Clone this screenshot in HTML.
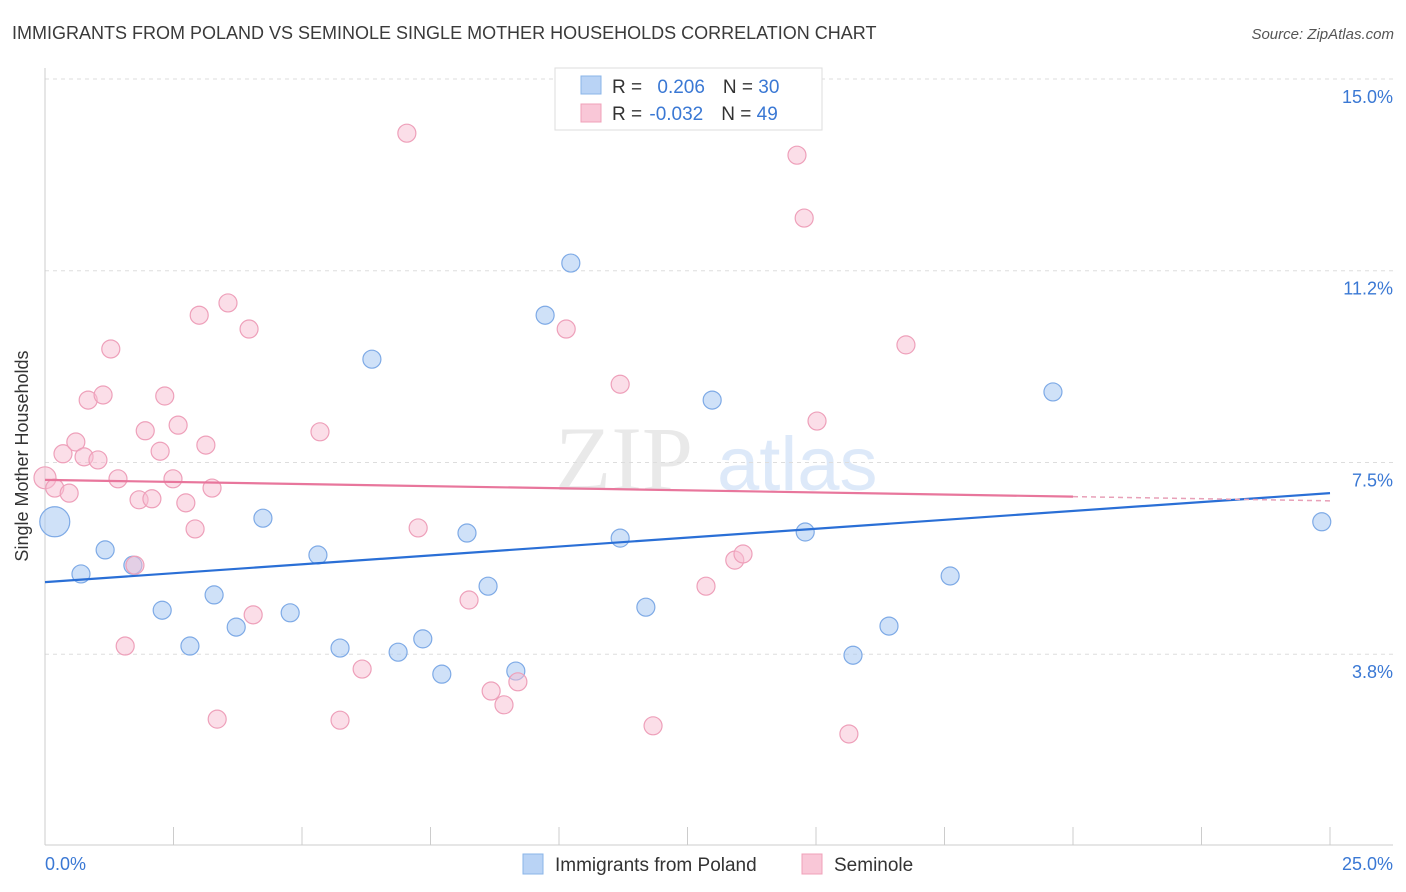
<!DOCTYPE html>
<html><head><meta charset="utf-8"><style>
body{margin:0;background:#fff;font-family:"Liberation Sans",sans-serif;}
svg{display:block}
</style></head><body>
<svg width="1406" height="892">
<text x="12" y="39" font-size="18" fill="#3a3a3a">IMMIGRANTS FROM POLAND VS SEMINOLE SINGLE MOTHER HOUSEHOLDS CORRELATION CHART</text>
<text x="1394" y="39" font-size="15" fill="#555" font-style="italic" text-anchor="end">Source: ZipAtlas.com</text>
<g opacity="0.18">
<text x="555" y="490" font-family="Liberation Serif,serif" font-size="92" fill="#888">ZIP</text>
<text x="717" y="490" font-size="76" fill="#4a8be0">atlas</text>
</g>
<g id="grid"></g>
<line x1="45" y1="68" x2="45" y2="845" stroke="#ccc"/>
<line x1="45" y1="845" x2="1393" y2="845" stroke="#ccc"/>
<g id="ticks"></g>
<g id="pts"></g>
<g id="lines"></g>
<text x="28" y="456" font-size="18" fill="#333" text-anchor="middle" transform="rotate(-90 28 456)">Single Mother Households</text>
<text x="45" y="870" font-size="18" fill="#3a78d4">0.0%</text>
<text x="1393" y="870" font-size="18" fill="#3a78d4" text-anchor="end">25.0%</text>
<g>
<rect x="555" y="68" width="267" height="62" fill="#fff" stroke="#ddd"/>
<rect x="581" y="76" width="20" height="18" fill="#b9d3f5" stroke="#8ab4e8"/>
<rect x="581" y="104" width="20" height="18" fill="#f9c7d7" stroke="#f0a0b8"/>
<text x="612" y="93" font-size="19" fill="#333">R = <tspan fill="#3a78d4" dx="10">0.206</tspan><tspan dx="18">N = </tspan><tspan fill="#3a78d4">30</tspan></text>
<text x="612" y="120" font-size="19" fill="#333">R = <tspan fill="#3a78d4" dx="2">-0.032</tspan><tspan dx="18">N = </tspan><tspan fill="#3a78d4">49</tspan></text>
</g>
<g>
<rect x="523" y="854" width="20" height="20" fill="#b9d3f5" stroke="#8ab4e8"/>
<text x="555" y="871" font-size="19" fill="#333">Immigrants from Poland</text>
<rect x="802" y="854" width="20" height="20" fill="#f9c7d7" stroke="#f0a0b8"/>
<text x="834" y="871" font-size="19" fill="#333">Seminole</text>
</g>
</svg>
<script>
const yTicks=[15.0,11.25,7.5,3.75];
const yTickLabels=["15.0%","11.2%","7.5%","3.8%"];
const xTicks=[0,2.5,5,7.5,10,12.5,15,17.5,20,22.5,25];
const polandX=[0.19,0.70,1.17,1.71,2.28,2.82,3.29,3.72,4.24,4.77,5.31,5.74,6.36,6.87,7.35,7.72,8.21,8.62,9.16,9.73,10.23,11.19,11.69,12.98,14.79,15.72,16.42,17.61,19.61,24.84];
const polandY=[6.34,5.32,5.79,5.49,4.61,3.91,4.91,4.28,6.41,4.56,5.69,3.87,9.52,3.79,4.05,3.36,6.12,5.08,3.42,10.38,11.40,6.02,4.67,8.72,6.14,3.73,4.30,5.28,8.88,6.34];
const polandR=[15,9,9,9,9,9,9,9,9,9,9,9,9,9,9,9,9,9,9,9,9,9,9,9,9,9,9,9,9,9];
const seminoleX=[0,0.19,0.47,0.35,0.60,0.76,1.03,0.84,1.13,1.28,1.42,1.56,1.83,1.95,2.08,2.24,2.33,2.49,2.59,2.74,2.92,3.00,3.13,3.25,3.35,3.56,3.97,4.05,5.35,5.74,6.17,7.04,7.26,8.25,8.68,8.93,9.20,10.14,11.19,11.83,12.86,13.42,13.58,14.63,14.77,15.02,15.64,16.75,1.75];
const seminoleY=[7.20,7.0,6.90,7.67,7.90,7.61,7.55,8.72,8.82,9.72,7.18,3.91,6.77,8.12,6.79,7.72,8.80,7.18,8.23,6.71,6.20,10.38,7.84,7.0,2.48,10.62,10.11,4.52,8.10,2.46,3.46,13.94,6.22,4.81,3.03,2.76,3.21,10.11,9.03,2.35,5.08,5.59,5.71,13.51,12.28,8.31,2.19,9.80,5.49];
const polandTrend=[5.16,6.90];
const seminoleTrend=[7.16,6.75];
const NS="http://www.w3.org/2000/svg";
const X=v=>45+v*51.4, Y=v=>79+(15-v)*51.13;
function mk(t,a,p){const e=document.createElementNS(NS,t);for(const k in a)e.setAttribute(k,a[k]);p.appendChild(e);return e;}
const grid=document.getElementById('grid'),ticks=document.getElementById('ticks'),pts=document.getElementById('pts'),lines=document.getElementById('lines');
yTicks.forEach((v,i)=>{
 const l=mk('line',{x1:45,x2:1393,y1:Y(v),y2:Y(v),stroke:'#ddd','stroke-dasharray':'4 4'},grid);
 
 
 const t=mk('text',{x:1393,y:Y(v)+24,'font-size':18,fill:'#3a78d4','text-anchor':'end'},ticks);
 t.textContent=yTickLabels[i];
 
 
});
xTicks.forEach(v=>{
 const l=mk('line',{x1:X(v),x2:X(v),y1:827,y2:845,stroke:'#ccc'},ticks);
 
 
});
polandX.forEach((v,i)=>{
 const c=mk('circle',{cx:X(v),cy:Y(polandY[i]),r:polandR[i],fill:'rgba(168,200,242,0.55)',stroke:'#7eaae6','stroke-width':1.2},pts);
 
 
});
seminoleX.forEach((v,i)=>{
 const c=mk('circle',{cx:X(v),cy:Y(seminoleY[i]),r:i===0?11:9,fill:'rgba(248,190,210,0.5)',stroke:'#eea0ba','stroke-width':1.2},pts);
 
 
});
const pl=mk('line',{x1:X(0),y1:Y(polandTrend[0]),x2:X(25),y2:Y(polandTrend[1]),stroke:'#2a6fd6','stroke-width':2.2},lines);


const sAt=x=>seminoleTrend[0]+(seminoleTrend[1]-seminoleTrend[0])*x/25;
const sl=mk('line',{x1:X(0),y1:Y(sAt(0)),x2:X(20),y2:Y(sAt(20)),stroke:'#e8769c','stroke-width':2.2},lines);


const sd=mk('line',{x1:X(20),y1:Y(sAt(20)),x2:X(25),y2:Y(sAt(25)),stroke:'#e8a0b8','stroke-width':1.5,'stroke-dasharray':'5 4'},lines);


</script>
</body></html>
